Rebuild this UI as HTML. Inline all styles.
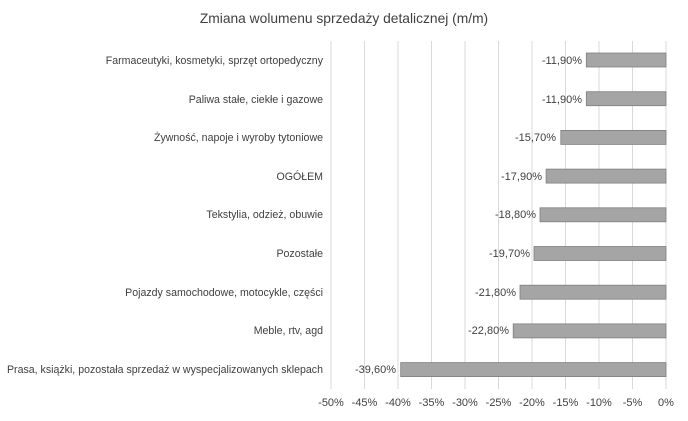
<!DOCTYPE html>
<html><head><meta charset="utf-8"><style>
body{margin:0;background:#fff;}
svg text{font-family:"Liberation Sans",sans-serif;fill:#404040;}
</style></head><body>
<svg width="688" height="416" xmlns="http://www.w3.org/2000/svg">
<rect width="688" height="416" fill="#fff"/>
<text x="344" y="23" font-size="13.8" text-anchor="middle" fill="#404040">Zmiana wolumenu sprzedaży detalicznej (m/m)</text>
<g stroke="#d9d9d9" stroke-width="1">
<line x1="331" y1="41" x2="331" y2="389"/><line x1="364.5" y1="41" x2="364.5" y2="389"/><line x1="398" y1="41" x2="398" y2="389"/><line x1="431.5" y1="41" x2="431.5" y2="389"/><line x1="465" y1="41" x2="465" y2="389"/><line x1="498.5" y1="41" x2="498.5" y2="389"/><line x1="532" y1="41" x2="532" y2="389"/><line x1="565.5" y1="41" x2="565.5" y2="389"/><line x1="599" y1="41" x2="599" y2="389"/><line x1="632.5" y1="41" x2="632.5" y2="389"/><line x1="666" y1="41" x2="666" y2="389"/>
</g>
<g font-size="11" text-anchor="middle">
<text x="331" y="406">-50%</text><text x="364.5" y="406">-45%</text><text x="398" y="406">-40%</text><text x="431.5" y="406">-35%</text><text x="465" y="406">-30%</text><text x="498.5" y="406">-25%</text><text x="532" y="406">-20%</text><text x="565.5" y="406">-15%</text><text x="599" y="406">-10%</text><text x="632.5" y="406">-5%</text><text x="666" y="406">0%</text>
</g>
<g fill="#a5a5a5" stroke="#7f7f7f" stroke-width="0.8">
<rect x="586.3" y="53" width="79.7" height="14"/>
<rect x="586.3" y="91.7" width="79.7" height="14"/>
<rect x="560.8" y="130.4" width="105.2" height="14"/>
<rect x="546.1" y="169.1" width="119.9" height="14"/>
<rect x="540" y="207.8" width="126" height="14"/>
<rect x="534" y="246.5" width="132" height="14"/>
<rect x="520" y="285.2" width="146" height="14"/>
<rect x="513.2" y="323.9" width="152.8" height="14"/>
<rect x="400.7" y="362.6" width="265.3" height="14"/>
</g>
<g font-size="11" text-anchor="end">
<text x="582" y="64">-11,90%</text>
<text x="582" y="103">-11,90%</text>
<text x="556" y="141">-15,70%</text>
<text x="542" y="180">-17,90%</text>
<text x="536" y="218">-18,80%</text>
<text x="530" y="257">-19,70%</text>
<text x="516" y="296">-21,80%</text>
<text x="509" y="334">-22,80%</text>
<text x="396" y="373">-39,60%</text>
</g>
<g font-size="10.6" text-anchor="end">
<text x="323" y="64">Farmaceutyki, kosmetyki, sprzęt ortopedyczny</text>
<text x="323" y="103">Paliwa stałe, ciekłe i gazowe</text>
<text x="323" y="141">Żywność, napoje i wyroby tytoniowe</text>
<text x="323" y="180">OGÓŁEM</text>
<text x="323" y="218">Tekstylia, odzież, obuwie</text>
<text x="323" y="257">Pozostałe</text>
<text x="323" y="296">Pojazdy samochodowe, motocykle, części</text>
<text x="323" y="334">Meble, rtv, agd</text>
<text x="323" y="373" textLength="316" lengthAdjust="spacingAndGlyphs">Prasa, książki, pozostała sprzedaż w wyspecjalizowanych sklepach</text>
</g>
</svg>
</body></html>
